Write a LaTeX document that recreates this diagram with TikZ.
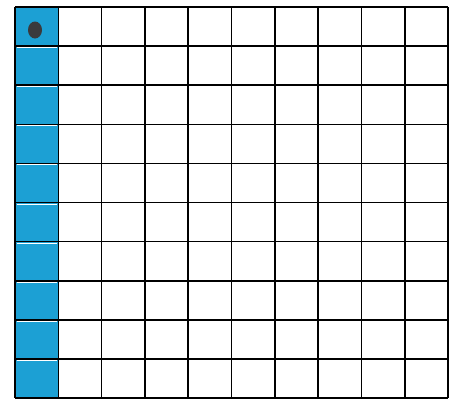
\documentclass[tikz,border=0pt]{standalone}
\definecolor{cellblue}{RGB}{28,160,212}
\definecolor{dotgrey}{RGB}{58,58,60}
\begin{document}
\begin{tikzpicture}[x=1pt,y=-1pt,
  gridline/.style={line width=1.6pt, black},
  bluecell/.style={fill=cellblue, draw=none}]
\useasboundingbox[fill=white] (0,0) rectangle (456,400);
\def\xo{15}\def\yo{7}\def\cw{43.3}\def\ch{39.1}
% blue column
\fill[cellblue] (\xo,\yo) rectangle ({\xo+\cw},{\yo+10*\ch});
% grid lines
\foreach \i in {0,...,10}{
  \draw[gridline] ({\xo+\i*\cw},\yo) -- ({\xo+\i*\cw},{\yo+10*\ch});
  \draw[gridline] (\xo,{\yo+\i*\ch}) -- ({\xo+10*\cw},{\yo+\i*\ch});
}
% white thin separators inside blue column
\foreach \i in {1,...,9}{
  \draw[white, line width=0.8pt] ({\xo+1.5},{\yo+\i*\ch+1.4}) -- ({\xo+\cw-1.5},{\yo+\i*\ch+1.4});
}
% dot
\fill[dotgrey] (35,30) ellipse [x radius=7, y radius=8.5];
\end{tikzpicture}
\end{document}
